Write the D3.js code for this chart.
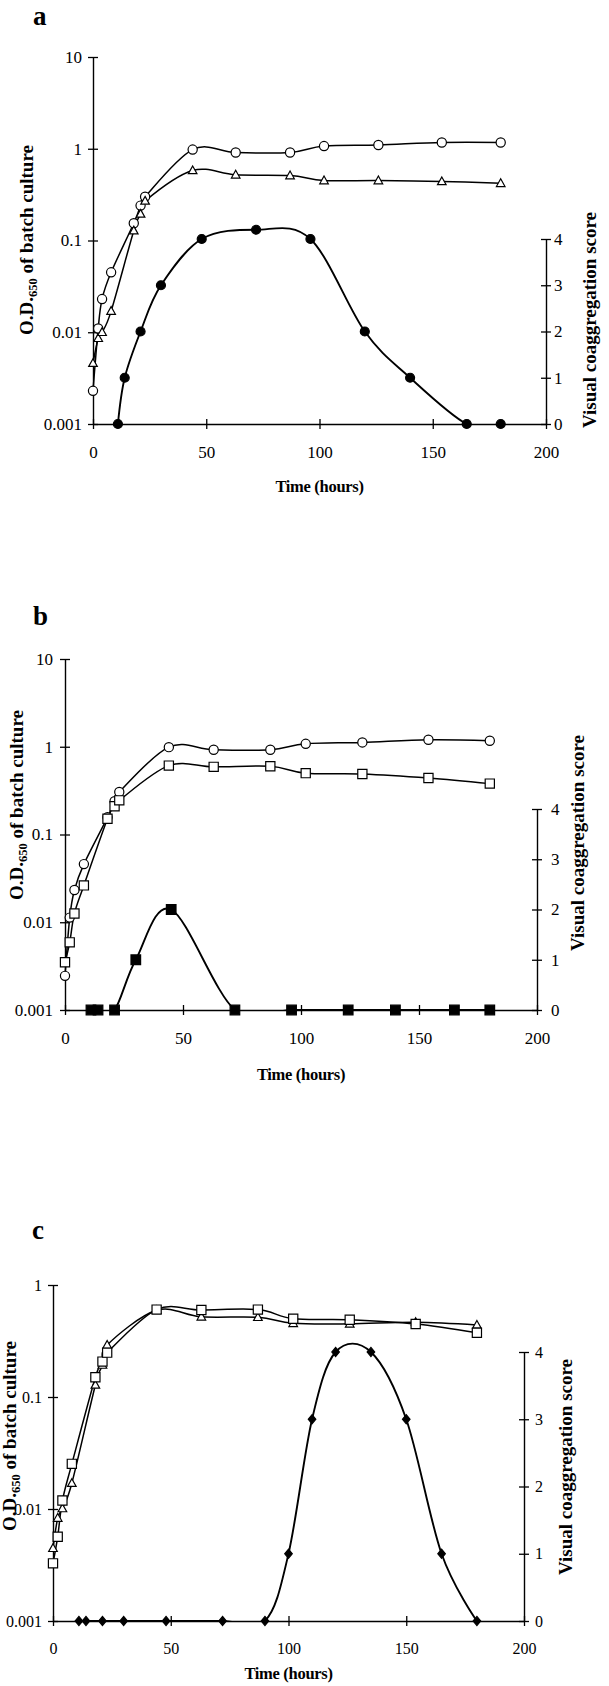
<!DOCTYPE html>
<html><head><meta charset="utf-8">
<script src="https://cdn.jsdelivr.net/npm/d3@7"></script>
<style>body{margin:0;background:#fff}svg{display:block}</style>
</head><body>
<svg id="chart" width="609" height="1686"></svg>
<script>
// ---------------- DATA ----------------
const timeTicks = [0, 50, 100, 150, 200];
const scoreTicks = [0, 1, 2, 3, 4];
const odTicksAB = [0.001, 0.01, 0.1, 1, 10];
const odTicksC = [0.001, 0.01, 0.1, 1];

// panel a
const timeA = [0, 2.3, 4, 8, 18, 21, 23, 44, 63, 87, 102, 126, 154, 180];
const odA_circle = [0.0023, 0.011, 0.023, 0.045, 0.154, 0.24, 0.30, 0.98, 0.91, 0.91, 1.07, 1.10, 1.17, 1.17];
const odA_triangle = [0.0046, 0.0086, 0.010, 0.017, 0.128, 0.195, 0.27, 0.58, 0.52, 0.51, 0.45, 0.45, 0.44, 0.42];
const scoreTimeA = [11, 14, 21, 30, 48, 72, 96, 120, 140, 165, 180];
const scoreA = [0, 1, 2, 3, 4, 4.2, 4, 2, 1, 0, 0];

// panel b
const timeB = [0, 2, 4, 8, 18, 21, 23, 44, 63, 87, 102, 126, 154, 180];
const odB_circle = [0.00245, 0.0113, 0.0233, 0.046, 0.157, 0.239, 0.305, 0.99, 0.925, 0.925, 1.08, 1.12, 1.20, 1.17];
const odB_square = [0.0035, 0.0059, 0.0126, 0.0263, 0.151, 0.21, 0.245, 0.61, 0.59, 0.60, 0.50, 0.49, 0.44, 0.38];
const scoreTimeB = [11, 14, 21, 30, 45, 72, 96, 120, 140, 165, 180];
const scoreB = [0, 0, 0, 1, 2, 0, 0, 0, 0, 0, 0];

// panel c
const timeC = [0, 2, 4, 8, 18, 21, 23, 44, 63, 87, 102, 126, 154, 180];
const odC_square = [0.00327, 0.00566, 0.0119, 0.0253, 0.150, 0.207, 0.249, 0.603, 0.598, 0.603, 0.50, 0.49, 0.449, 0.375];
const odC_triangle = [0.00446, 0.0083, 0.0101, 0.017, 0.128, 0.193, 0.291, 0.595, 0.52, 0.515, 0.455, 0.45, 0.465, 0.44];
const scoreTimeC = [11, 14, 21, 30, 48, 72, 90, 100, 110, 120, 135, 150, 165, 180];
const scoreC = [0, 0, 0, 0, 0, 0, 0, 1, 3, 4, 4, 3, 1, 0];

const xTitle = "Time (hours)";
const yTitleMain = "O.D.";
const yTitleSub = "650";
const yTitleRest = " of batch culture";
const rTitle = "Visual coaggregation score";

// ---------------- DRAWING ----------------
const SERIF = "'Liberation Serif','Times New Roman',Times,serif";
const svg = d3.select('#chart');
svg.append('rect').attr('width', 609).attr('height', 1686).attr('fill', '#fff');
const defs = svg.append('defs');

function markerPath(type, r) {
  if (type === 'circle') return d3.symbol(d3.symbolCircle, Math.PI * r * r)();
  if (type === 'square') return `M${-r},${-r}H${r}V${r}H${-r}Z`;
  if (type === 'triangle') return `M0,${-r*1.05}L${r},${r*0.75}L${-r},${r*0.75}Z`;
  if (type === 'diamond') return `M0,${-r*1.1}L${r*0.9},0L0,${r*1.1}L${-r*0.9},0Z`;
}

function panel(cfg) {
  const g = svg.append('g');
  const x = d3.scaleLinear().domain([0, 200]).range([cfg.x0, cfg.x1]);
  const y = d3.scaleLog().domain([cfg.odTicks[0], cfg.odTicks[cfg.odTicks.length - 1]]).range([cfg.yBot, cfg.yTop]);
  const yr = d3.scaleLinear().domain([0, 4]).range([cfg.yBot, cfg.rTop]);

  const clipId = 'clip' + cfg.letter;
  defs.append('clipPath').attr('id', clipId).append('rect')
    .attr('x', cfg.x0 - 10).attr('y', cfg.yTop - 80)
    .attr('width', cfg.x1 - cfg.x0 + 20).attr('height', cfg.yBot - cfg.yTop + 80 + 0.6);

  // panel letter
  g.append('text').attr('x', cfg.letterX).attr('y', cfg.letterY)
    .attr('font-family', SERIF).attr('font-weight', 'bold').attr('font-size', 27)
    .text(cfg.letter);

  // left axis
  const la = g.append('g').attr('transform', `translate(${cfg.x0},0)`)
    .call(d3.axisLeft(y).tickValues(cfg.odTicks).tickFormat(d => String(d))
      .tickSizeInner(5).tickSizeOuter(0).tickPadding(cfg.lPad));
  la.attr('font-family', SERIF).attr('font-size', cfg.fs);
  la.selectAll('.tick line').attr('x1', 5).attr('x2', -5).attr('stroke-width', 1.3);
  la.select('.domain').attr('stroke-width', 1.4);

  // right axis
  const ra = g.append('g').attr('transform', `translate(${cfg.x1},0)`)
    .call(d3.axisRight(yr).tickValues(scoreTicks).tickFormat(d3.format('d'))
      .tickSizeInner(5).tickSizeOuter(0).tickPadding(cfg.rPad));
  ra.attr('font-family', SERIF).attr('font-size', cfg.fs);
  ra.selectAll('.tick line').attr('x1', -5).attr('x2', 5).attr('stroke-width', 1.3);
  ra.select('.domain').attr('stroke-width', 1.4);

  // bottom axis
  const ba = g.append('g').attr('transform', `translate(0,${cfg.yBot})`)
    .call(d3.axisBottom(x).tickValues(timeTicks).tickFormat(d3.format('d'))
      .tickSizeInner(5).tickSizeOuter(0).tickPadding(16.5));
  ba.attr('font-family', SERIF).attr('font-size', cfg.fs);
  ba.selectAll('.tick line').attr('y1', -5).attr('y2', 5).attr('stroke-width', 1.3);
  ba.select('.domain').attr('stroke-width', 1.6);

  // axis titles
  g.append('text').attr('x', (cfg.x0 + cfg.x1) / 2).attr('y', cfg.xTitleY)
    .attr('text-anchor', 'middle').attr('font-family', SERIF).attr('font-weight', 'bold')
    .attr('font-size', 16.5).attr('letter-spacing', -0.3).text(xTitle);

  const lt = g.append('text')
    .attr('transform', `translate(${cfg.lTitleX},${cfg.lTitleY}) rotate(-90)`)
    .attr('text-anchor', 'middle').attr('font-family', SERIF).attr('font-weight', 'bold')
    .attr('font-size', 19);
  lt.append('tspan').text(yTitleMain);
  lt.append('tspan').attr('font-size', 12.5).attr('dy', 4).text(yTitleSub);
  lt.append('tspan').attr('dy', -4).text(yTitleRest);

  g.append('text')
    .attr('transform', `translate(${cfg.rTitleX},${cfg.rTitleY}) rotate(-90)`)
    .attr('text-anchor', 'middle').attr('font-family', SERIF).attr('font-weight', 'bold')
    .attr('font-size', 19).text(rTitle);

  // series
  const curve = d3.curveCardinal.tension(0);
  const odLine = d3.line().x(d => x(d[0])).y(d => y(d[1])).curve(curve);
  const scLine = d3.line().x(d => x(d[0])).y(d => yr(d[1])).curve(curve);

  cfg.series.forEach(s => {
    const pts = s.t.map((t, i) => [t, s.v[i]]);
    const ln = s.axis === 'od' ? odLine : scLine;
    const p = g.append('path').attr('d', ln(pts)).attr('fill', 'none')
      .attr('stroke', '#000').attr('stroke-width', s.axis === 'od' ? 1.5 : 1.9)
      .attr('stroke-linejoin', 'round');
    if (s.axis === 'score') p.attr('clip-path', `url(#${clipId})`);
  });
  cfg.series.forEach(s => {
    const pts = s.t.map((t, i) => [t, s.v[i]]);
    const sc = s.axis === 'od' ? y : yr;
    g.append('g').selectAll('path').data(pts).join('path')
      .attr('transform', d => `translate(${x(d[0])},${sc(d[1])})`)
      .attr('d', markerPath(s.marker, s.r))
      .attr('fill', s.filled ? '#000' : '#fff')
      .attr('stroke', '#000').attr('stroke-width', 1.2);
  });
}

panel({
  letter: 'a', letterX: 33, letterY: 25,
  x0: 93, x1: 546, yTop: 57, yBot: 424, rTop: 239,
  odTicks: odTicksAB, fs: 17, lPad: 6, rPad: 3,
  xTitleY: 492, lTitleX: 33, lTitleY: 240, rTitleX: 596, rTitleY: 320,
  series: [
    { t: timeA, v: odA_circle, axis: 'od', marker: 'circle', r: 4.6, filled: false },
    { t: timeA, v: odA_triangle, axis: 'od', marker: 'triangle', r: 4.3, filled: false },
    { t: scoreTimeA, v: scoreA, axis: 'score', marker: 'circle', r: 4.5, filled: true }
  ]
});

panel({
  letter: 'b', letterX: 33, letterY: 625,
  x0: 65, x1: 537, yTop: 659, yBot: 1010, rTop: 809,
  odTicks: odTicksAB, fs: 17, lPad: 7, rPad: 9,
  xTitleY: 1080, lTitleX: 23, lTitleY: 805, rTitleX: 584, rTitleY: 843,
  series: [
    { t: timeB, v: odB_circle, axis: 'od', marker: 'circle', r: 4.6, filled: false },
    { t: timeB, v: odB_square, axis: 'od', marker: 'square', r: 4.6, filled: false },
    { t: scoreTimeB, v: scoreB, axis: 'score', marker: 'square', r: 4.8, filled: true }
  ]
});

panel({
  letter: 'c', letterX: 32, letterY: 1239,
  x0: 53, x1: 524, yTop: 1285, yBot: 1621, rTop: 1352,
  odTicks: odTicksC, fs: 16, lPad: 6, rPad: 6,
  xTitleY: 1679, lTitleX: 16, lTitleY: 1436, rTitleX: 572, rTitleY: 1467,
  series: [
    { t: timeC, v: odC_triangle, axis: 'od', marker: 'triangle', r: 4.3, filled: false },
    { t: timeC, v: odC_square, axis: 'od', marker: 'square', r: 4.6, filled: false },
    { t: scoreTimeC, v: scoreC, axis: 'score', marker: 'diamond', r: 4.2, filled: true }
  ]
});
</script>
</body></html>
